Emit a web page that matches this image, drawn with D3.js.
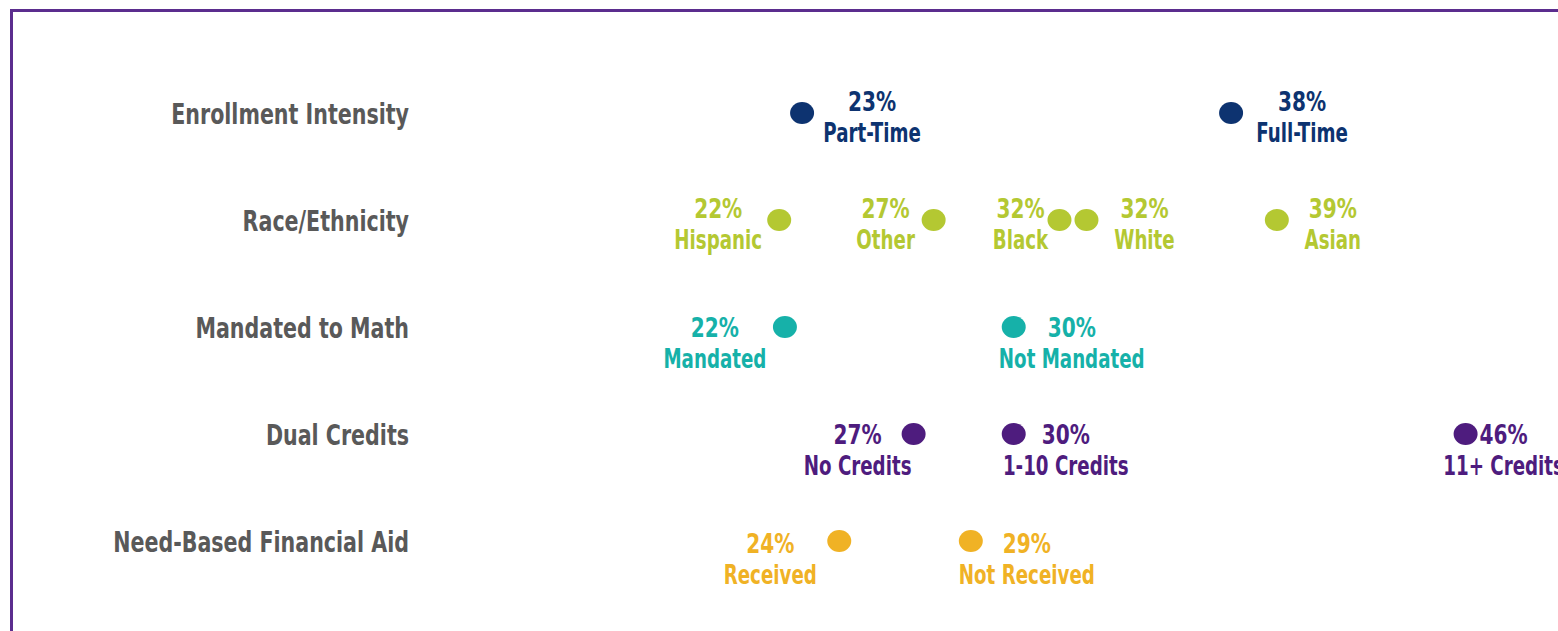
<!DOCTYPE html>
<html>
<head>
<meta charset="utf-8">
<script src="https://cdn.jsdelivr.net/npm/d3@7"></script>
<style>
  html, body { margin: 0; padding: 0; background: #fff; }
  svg { display: block; }
</style>
</head>
<body>
<svg id="chart" width="1558" height="631"></svg>
<script>
// ---------------- DATA ----------------
const rowNames = ["Enrollment Intensity", "Race/Ethnicity", "Mandated to Math", "Dual Credits", "Need-Based Financial Aid"];

const enrollGroups = ["Part-Time", "Full-Time"];
const enrollValues = [22.8, 37.8];

const raceGroups = ["Hispanic", "Other", "Black", "White", "Asian"];
const raceValues = [22.0, 27.4, 31.8, 32.4, 39.4];

const mathGroups = ["Mandated", "Not Mandated"];
const mathValues = [22.2, 30.2];

const dualGroups = ["No Credits", "1-10 Credits", "11+ Credits"];
const dualValues = [26.7, 30.2, 46.0];

const aidGroups = ["Received", "Not Received"];
const aidValues = [24.1, 28.7];

// ---------------- LAYOUT / STYLE ----------------
const rowColors = ["#0d3370", "#b4c832", "#16b1a9", "#4e1c7e", "#f0b225"];
// horizontal offset of each label block centre from its dot
const labelDx = {
  "Part-Time": 70, "Full-Time": 71,
  "Hispanic": -61, "Other": -48, "Black": -39, "White": 58, "Asian": 56,
  "Mandated": -70, "Not Mandated": 58,
  "No Credits": -56, "1-10 Credits": 52, "11+ Credits": 38,
  "Received": -69, "Not Received": 56
};
// vertical offset of the % line baseline from the dot, per row
const rowLabelDy = [-2, -2, 10, 10, 12];
const condenseName = 0.78; // horizontal compression to mimic a condensed face
const condensePct = 0.86;
const condenseRow = 0.79;

const groupsByRow = [enrollGroups, raceGroups, mathGroups, dualGroups, aidGroups];
const valuesByRow = [enrollValues, raceValues, mathValues, dualValues, aidValues];

const points = [];
rowNames.forEach((r, i) => {
  groupsByRow[i].forEach((g, j) => points.push({row: r, rowIndex: i, group: g, value: valuesByRow[i][j]}));
});

const svg = d3.select("#chart");
const W = 1558, H = 631;

// frame
svg.append("rect")
  .attr("x", 11.5).attr("y", 10.5)
  .attr("width", W + 20).attr("height", H + 20)
  .attr("fill", "none")
  .attr("stroke", "#5b2d8e")
  .attr("stroke-width", 3);

const x = d3.scaleLinear().domain([20, 45]).range([722, 1437]);
const y = d3.scalePoint().domain(rowNames).range([113, 541]);

const fontFam = "'Liberation Sans Narrow', 'Arial Narrow', 'DejaVu Sans Condensed', sans-serif";

// compute dot positions, nudging touching dots apart
const minGap = 27;
rowNames.forEach(r => {
  const pts = points.filter(p => p.row === r).sort((a, b) => a.value - b.value);
  let prev = -Infinity;
  pts.forEach(p => {
    let px = x(p.value);
    if (px - prev < minGap) px = prev + minGap;
    p.px = px;
    prev = px;
  });
});

// row labels
svg.append("g").selectAll("text")
  .data(rowNames)
  .join("text")
  .attr("transform", d => `translate(409,${y(d) + 11}) scale(${condenseRow},1)`)
  .attr("text-anchor", "end")
  .attr("font-family", fontFam)
  .attr("font-weight", "bold")
  .attr("font-size", 29)
  .attr("fill", "#595959")
  .text(d => d);

// dots
svg.append("g").selectAll("ellipse")
  .data(points)
  .join("ellipse")
  .attr("cx", d => d.px)
  .attr("cy", d => y(d.row))
  .attr("rx", 12)
  .attr("ry", 11)
  .attr("fill", d => rowColors[d.rowIndex]);

// labels
const fmt = v => d3.format(".0f")(v) + "%";
const lab = svg.append("g").selectAll("g")
  .data(points)
  .join("g")
  .attr("transform", d => `translate(${d.px + labelDx[d.group]},${y(d.row) + rowLabelDy[d.rowIndex]})`)
  .attr("fill", d => rowColors[d.rowIndex])
  .attr("font-family", fontFam)
  .attr("font-weight", "bold")
  .attr("font-size", 26)
  .attr("text-anchor", "middle");

lab.append("text").attr("transform", `scale(${condensePct},1)`).text(d => fmt(d.value));
lab.append("text").attr("transform", `translate(0,31) scale(${condenseName},1)`).text(d => d.group);
</script>
</body>
</html>
